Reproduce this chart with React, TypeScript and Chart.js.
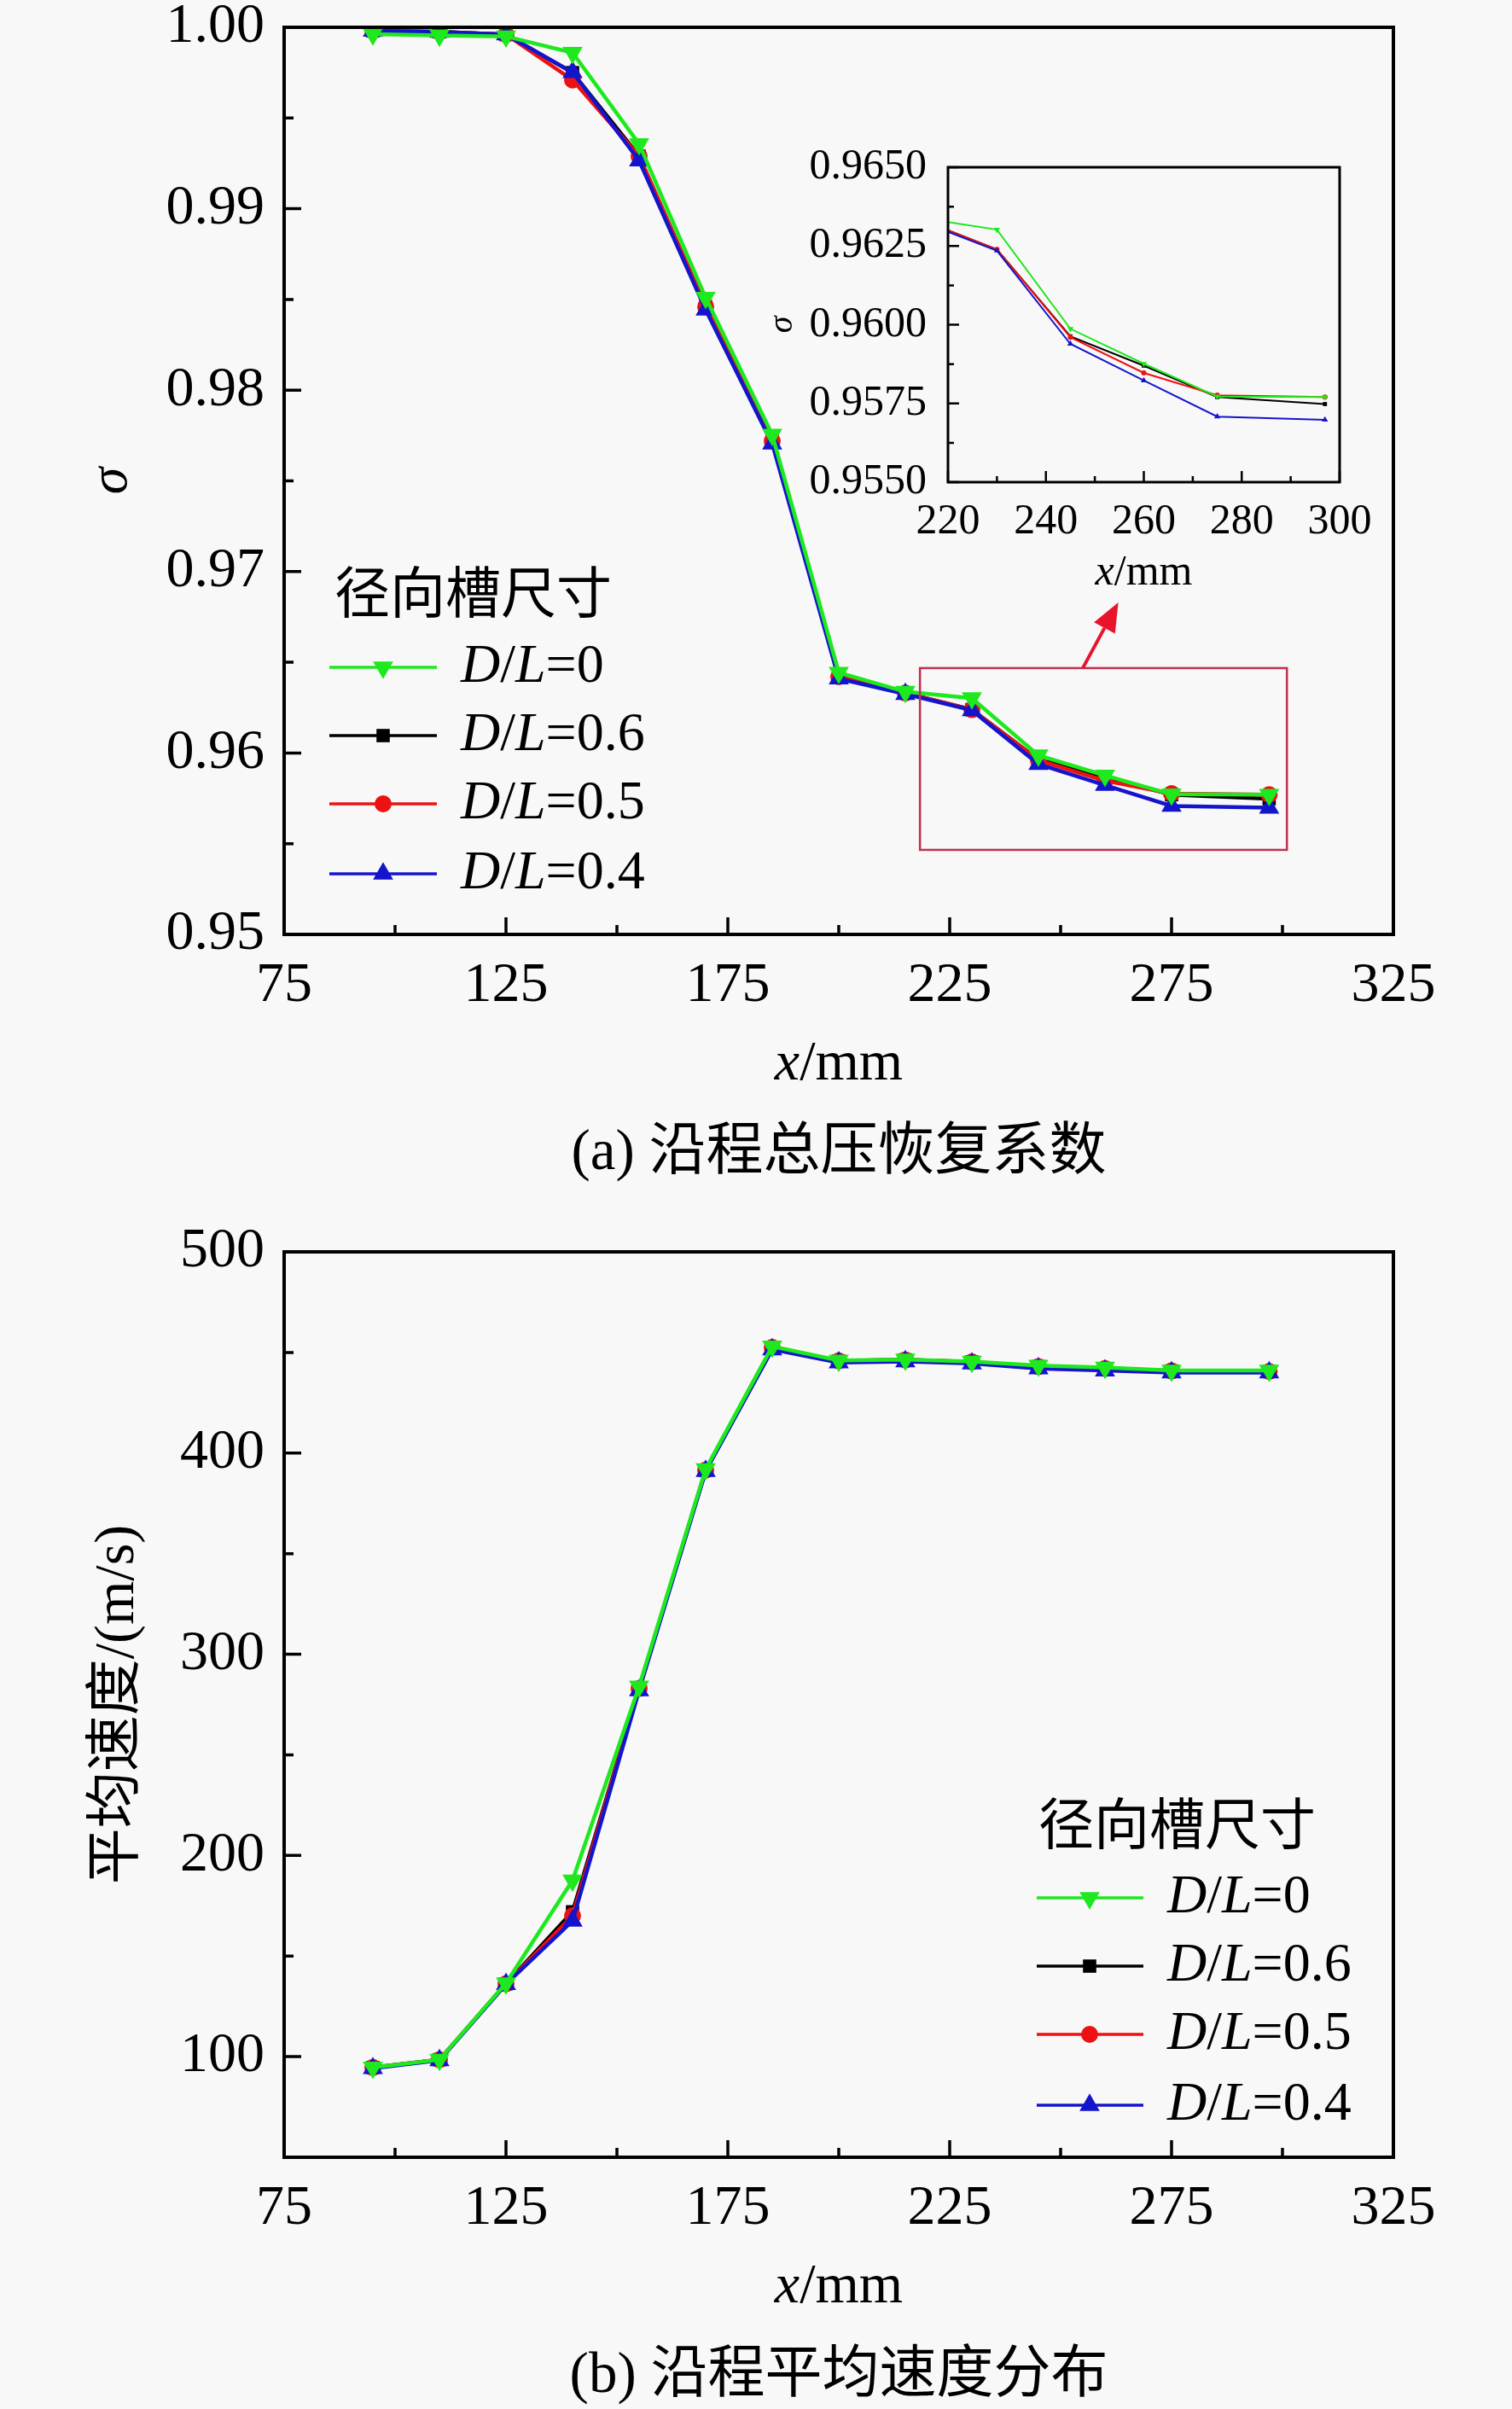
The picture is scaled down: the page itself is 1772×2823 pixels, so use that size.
import React, { useEffect, useRef } from 'react';
import { Chart, registerables } from 'chart.js';

Chart.register(...registerables);

// ---------------- data ----------------
const xPositions = [95, 110, 125, 140, 155, 170, 185, 200, 215, 230, 245, 260, 275, 297];
const seriesRatios = ['0', '0.6', '0.5', '0.4'];
const legendTitle = '径向槽尺寸';

const sigmaDL0 = [0.99962, 0.99955, 0.9995, 0.9986, 0.99357, 0.9851, 0.97755, 0.96443, 0.96338, 0.96302, 0.95987, 0.95876, 0.95772, 0.9577];
const sigmaDL06 = [0.9998, 0.99975, 0.9996, 0.9975, 0.9929, 0.9846, 0.9772, 0.9642, 0.9633, 0.96239, 0.95963, 0.9587, 0.9577, 0.95748];
const sigmaDL05 = [0.9998, 0.99975, 0.9996, 0.9971, 0.9929, 0.9846, 0.9772, 0.9642, 0.9633, 0.96239, 0.9596, 0.95847, 0.95776, 0.9577];
const sigmaDL04 = [0.9998, 0.99975, 0.9996, 0.99752, 0.99265, 0.98443, 0.97705, 0.9641, 0.96325, 0.96235, 0.95939, 0.95823, 0.95708, 0.95698];

const velDL0 = [94.6, 98.5, 136.5, 187.6, 284, 392, 453, 446, 446.5, 445.5, 443.5, 442.5, 441, 441];
const velDL06 = [94.6, 98.5, 136.2, 172, 283, 391.5, 452.5, 445.8, 446.3, 445.3, 443, 442, 440.8, 440.5];
const velDL05 = [94.6, 98.5, 136.2, 170, 283, 391.5, 452.5, 445.8, 446.3, 445.3, 443, 442, 440.8, 440.5];
const velDL04 = [94.2, 98.2, 136, 167.5, 282, 391, 451.5, 445, 445.5, 444.5, 442, 441, 440, 440];

const xTicks = [75, 125, 175, 225, 275, 325];
const xMinorTicks = [100, 150, 200, 250, 300];
const sigmaTicks = [0.95, 0.96, 0.97, 0.98, 0.99, 1.0];
const sigmaMinorTicks = [0.955, 0.965, 0.975, 0.985, 0.995];
const velTicks = [100, 200, 300, 400, 500];
const velMinorTicks = [150, 250, 350, 450];
const insetXTicks = [220, 240, 260, 280, 300];
const insetXMinorTicks = [230, 250, 270, 290];
const insetYTicks = [0.955, 0.9575, 0.96, 0.9625, 0.965];
const insetYMinorTicks = [0.95625, 0.95875, 0.96125, 0.96375];

const zoomBoxX = [218.3, 301];
const zoomBoxY = [0.95466, 0.96468];
const arrowFrom = [255, 0.96468];
const arrowTo = [263, 0.9683];

const captionA = '(a) 沿程总压恢复系数';
const captionB = '(b) 沿程平均速度分布';
const velTitle = '平均速度/(m/s)';

// ---------------- styles ----------------
const FAMILY = '"Liberation Serif", "Noto Sans CJK SC", serif';
const seriesColors = ['#1ee81e', '#000000', '#ee1111', '#1414cc'];
const seriesPointStyles = ['triangle', 'rect', 'circle', 'triangle'];
const seriesPointRotations = [180, 0, 0, 0];
const seriesDrawOrder = [0, 3, 2, 1]; // green on top, then blue, red, black
const seriesMarkerScale = [1.3, 1.05, 0.95, 1.3];

type Seg = { t: string; it?: boolean };

function drawRich(ctx: CanvasRenderingContext2D, segs: Seg[], x: number, y: number, size: number, align: 'left' | 'center', rotate = 0) {
  ctx.save();
  ctx.translate(x, y);
  if (rotate) ctx.rotate(rotate);
  ctx.textBaseline = 'middle';
  ctx.textAlign = 'left';
  ctx.fillStyle = '#000';
  const fonts = segs.map((s) => `${s.it ? 'italic ' : ''}${size}px ${FAMILY}`);
  const widths = segs.map((s, i) => {
    ctx.font = fonts[i];
    return ctx.measureText(s.t).width;
  });
  const total = widths.reduce((a, b) => a + b, 0);
  let cx = align === 'center' ? -total / 2 : 0;
  segs.forEach((s, i) => {
    ctx.font = fonts[i];
    ctx.fillText(s.t, cx, 0);
    cx += widths[i];
  });
  ctx.restore();
}

function drawMarker(ctx: CanvasRenderingContext2D, style: string, rotationDeg: number, x: number, y: number, r: number, color: string) {
  ctx.save();
  ctx.fillStyle = color;
  ctx.beginPath();
  if (style === 'rect') {
    const s = r * Math.SQRT1_2;
    ctx.rect(x - s, y - s, 2 * s, 2 * s);
  } else if (style === 'circle') {
    ctx.arc(x, y, r, 0, Math.PI * 2);
  } else {
    let rad = (rotationDeg * Math.PI) / 180;
    ctx.moveTo(x + Math.sin(rad) * r, y - Math.cos(rad) * r);
    rad += (2 * Math.PI) / 3;
    ctx.lineTo(x + Math.sin(rad) * r, y - Math.cos(rad) * r);
    rad += (2 * Math.PI) / 3;
    ctx.lineTo(x + Math.sin(rad) * r, y - Math.cos(rad) * r);
    ctx.closePath();
  }
  ctx.fill();
  ctx.restore();
}

function drawAxesBox(chart: any, o: { frame: number; tickW: number; maj: number; min: number; xMaj: number[]; xMin: number[]; yMaj: number[]; yMin: number[] }) {
  const { ctx, chartArea: a, scales } = chart;
  const xs = scales.x;
  const ys = scales.y;
  ctx.save();
  ctx.strokeStyle = '#000';
  ctx.lineWidth = o.tickW;
  ctx.beginPath();
  const xt = (vals: number[], len: number) =>
    vals.forEach((v) => {
      const px = xs.getPixelForValue(v);
      ctx.moveTo(px, a.bottom);
      ctx.lineTo(px, a.bottom - len);
    });
  const yt = (vals: number[], len: number) =>
    vals.forEach((v) => {
      const py = ys.getPixelForValue(v);
      ctx.moveTo(a.left, py);
      ctx.lineTo(a.left + len, py);
    });
  xt(o.xMaj, o.maj);
  xt(o.xMin, o.min);
  yt(o.yMaj, o.maj);
  yt(o.yMin, o.min);
  ctx.stroke();
  ctx.lineWidth = o.frame;
  ctx.strokeRect(a.left, a.top, a.right - a.left, a.bottom - a.top);
  ctx.restore();
}

function drawLegend(chart: any, spec: { titleX: number; titleY: number; rows: number[]; lineX0: number; lineX1: number; markerX: number; textX: number }) {
  const { ctx } = chart;
  drawRich(ctx, [{ t: legendTitle }], spec.titleX, spec.titleY, 65, 'left');
  chart.data.datasets.forEach((ds: any, i: number) => {
    const y = spec.rows[i];
    ctx.save();
    ctx.strokeStyle = ds.borderColor;
    ctx.lineWidth = 3.5;
    ctx.beginPath();
    ctx.moveTo(spec.lineX0, y);
    ctx.lineTo(spec.lineX1, y);
    ctx.stroke();
    ctx.restore();
    drawMarker(ctx, ds.pointStyle, ds.pointRotation, spec.markerX, y, 10.5 * seriesMarkerScale[i], ds.borderColor);
    drawRich(ctx, [{ t: 'D', it: true }, { t: '/' }, { t: 'L', it: true }, { t: '=' + seriesRatios[i] }], spec.textX, y, 64, 'left');
  });
}

function makeDatasets(series: number[][], width: number, radius: number, clip?: number) {
  return series.map((vals, i) => ({
    label: 'D/L=' + seriesRatios[i],
    data: xPositions.map((x, j) => ({ x, y: vals[j] })),
    order: seriesDrawOrder[i],
    borderColor: seriesColors[i],
    backgroundColor: seriesColors[i],
    pointBackgroundColor: seriesColors[i],
    pointBorderColor: seriesColors[i],
    pointBorderWidth: 0,
    borderWidth: width,
    pointRadius: radius * seriesMarkerScale[i],
    pointStyle: seriesPointStyles[i],
    pointRotation: seriesPointRotations[i],
    tension: 0,
    fill: false,
    ...(clip !== undefined ? { clip } : {}),
  }));
}

function scaleOpts(min: number, max: number, ticks: number[], fmt: (v: number) => string, size: number, pad: number, fitKey: 'width' | 'height', fitVal: number) {
  return {
    type: 'linear',
    min,
    max,
    grid: { display: false, drawTicks: false },
    border: { display: false },
    afterBuildTicks: (s: any) => {
      s.ticks = ticks.map((v) => ({ value: v }));
    },
    afterFit: (s: any) => {
      s[fitKey] = fitVal;
      s.paddingLeft = 0;
      s.paddingRight = 0;
      s.paddingTop = 0;
      s.paddingBottom = 0;
    },
    ticks: {
      autoSkip: false,
      maxRotation: 0,
      minRotation: 0,
      padding: pad,
      color: '#000',
      font: { family: FAMILY, size },
      callback: (v: any) => fmt(Number(v)),
    },
  };
}

const W = 1772;
const TOP_H = 1410;
const BOTTOM_TOP = 1410;
const BOTTOM_H = 2823 - 1410;

export default function App() {
  const topRef = useRef<HTMLCanvasElement>(null);
  const insetRef = useRef<HTMLCanvasElement>(null);
  const bottomRef = useRef<HTMLCanvasElement>(null);

  useEffect(() => {
    document.body.style.margin = '0';
    const charts: Chart[] = [];

    // ---------- top chart ----------
    const topPlugin = {
      id: 'topDecor',
      afterDatasetsDraw(chart: any) {
        const { ctx, scales } = chart;
        const xs = scales.x;
        const ys = scales.y;
        // zoom box
        ctx.save();
        ctx.strokeStyle = '#c0304c';
        ctx.lineWidth = 2.5;
        const bx0 = xs.getPixelForValue(zoomBoxX[0]);
        const bx1 = xs.getPixelForValue(zoomBoxX[1]);
        const by0 = ys.getPixelForValue(zoomBoxY[1]);
        const by1 = ys.getPixelForValue(zoomBoxY[0]);
        ctx.strokeRect(bx0, by0, bx1 - bx0, by1 - by0);
        // arrow
        const ax0 = xs.getPixelForValue(arrowFrom[0]);
        const ay0 = ys.getPixelForValue(arrowFrom[1]);
        const ax1 = xs.getPixelForValue(arrowTo[0]);
        const ay1 = ys.getPixelForValue(arrowTo[1]);
        const ang = Math.atan2(ay1 - ay0, ax1 - ax0);
        const headLen = 34;
        const headHalf = 14;
        const hx = ax1 - Math.cos(ang) * headLen;
        const hy = ay1 - Math.sin(ang) * headLen;
        ctx.strokeStyle = '#e8142c';
        ctx.fillStyle = '#e8142c';
        ctx.lineWidth = 4;
        ctx.beginPath();
        ctx.moveTo(ax0, ay0);
        ctx.lineTo(hx, hy);
        ctx.stroke();
        ctx.beginPath();
        ctx.moveTo(ax1, ay1);
        ctx.lineTo(hx + Math.sin(ang) * headHalf, hy - Math.cos(ang) * headHalf);
        ctx.lineTo(hx - Math.sin(ang) * headHalf, hy + Math.cos(ang) * headHalf);
        ctx.closePath();
        ctx.fill();
        ctx.restore();
        drawAxesBox(chart, { frame: 4, tickW: 3.5, maj: 20, min: 11, xMaj: xTicks, xMin: xMinorTicks, yMaj: sigmaTicks, yMin: sigmaMinorTicks });
      },
      afterDraw(chart: any) {
        const { ctx, chartArea: a } = chart;
        const cx = (a.left + a.right) / 2;
        drawRich(ctx, [{ t: 'x', it: true }, { t: '/mm' }], cx, a.bottom + 153, 66, 'center');
        drawRich(ctx, [{ t: captionA }], cx, a.bottom + 257, 67, 'center');
        drawRich(ctx, [{ t: 'σ', it: true }], 131, (a.top + a.bottom) / 2, 64, 'center', -Math.PI / 2);
        drawLegend(chart, { titleX: 392, titleY: 701, rows: [782, 862, 942, 1024], lineX0: 386, lineX1: 512, markerX: 449, textX: 540 });
      },
    };

    const topY = scaleOpts(0.95, 1.0, sigmaTicks, (v) => v.toFixed(2), 66, 23, 'width', 333);
    const topX = scaleOpts(75, 325, xTicks, (v) => String(v), 66, 21, 'height', 100);
    charts.push(
      new Chart(topRef.current as HTMLCanvasElement, {
        type: 'line',
        data: { datasets: makeDatasets([sigmaDL0, sigmaDL06, sigmaDL05, sigmaDL04], 4.5, 10.5) as any },
        options: {
          animation: false,
          responsive: false,
          maintainAspectRatio: false,
          layout: { padding: { left: 0, right: W - 1633, top: 32, bottom: TOP_H - 1095 - 100 } },
          plugins: { legend: { display: false }, tooltip: { enabled: false }, title: { display: false } },
          scales: { x: topX as any, y: topY as any },
        },
        plugins: [topPlugin as any],
      })
    );

    // ---------- inset ----------
    const insetPlugin = {
      id: 'insetDecor',
      afterDatasetsDraw(chart: any) {
        drawAxesBox(chart, { frame: 3, tickW: 2.5, maj: 13, min: 7, xMaj: insetXTicks, xMin: insetXMinorTicks, yMaj: insetYTicks, yMin: insetYMinorTicks });
      },
      afterDraw(chart: any) {
        const { ctx, chartArea: a } = chart;
        drawRich(ctx, [{ t: 'x', it: true }, { t: '/mm' }], (a.left + a.right) / 2, a.bottom + 107, 50, 'center');
        drawRich(ctx, [{ t: 'σ', it: true }], a.left - 194, (a.top + a.bottom) / 2, 40, 'center', -Math.PI / 2);
      },
    };
    const inY = scaleOpts(0.955, 0.965, insetYTicks, (v) => v.toFixed(4), 50, 25, 'width', 231);
    const inX = scaleOpts(220, 300, insetXTicks, (v) => String(v), 50, 17, 'height', 100);
    charts.push(
      new Chart(insetRef.current as HTMLCanvasElement, {
        type: 'line',
        data: { datasets: makeDatasets([sigmaDL0, sigmaDL06, sigmaDL05, sigmaDL04], 2, 3.2, 0) as any },
        options: {
          animation: false,
          responsive: false,
          maintainAspectRatio: false,
          layout: { padding: { left: 0, right: 740 - 690, top: 46, bottom: 560 - 415 - 100 } },
          plugins: { legend: { display: false }, tooltip: { enabled: false }, title: { display: false } },
          scales: { x: inX as any, y: inY as any },
        },
        plugins: [insetPlugin as any],
      })
    );

    // ---------- bottom chart ----------
    const bottomPlugin = {
      id: 'bottomDecor',
      afterDatasetsDraw(chart: any) {
        drawAxesBox(chart, { frame: 4, tickW: 3.5, maj: 20, min: 11, xMaj: xTicks, xMin: xMinorTicks, yMaj: velTicks, yMin: velMinorTicks });
      },
      afterDraw(chart: any) {
        const { ctx, chartArea: a } = chart;
        const cx = (a.left + a.right) / 2;
        drawRich(ctx, [{ t: 'x', it: true }, { t: '/mm' }], cx, a.bottom + 153, 66, 'center');
        drawRich(ctx, [{ t: captionB }], cx, a.bottom + 257, 67, 'center');
        drawRich(ctx, [{ t: velTitle }], 139, (a.top + a.bottom) / 2, 66, 'center', -Math.PI / 2);
        const off = BOTTOM_TOP;
        drawLegend(chart, {
          titleX: 1217,
          titleY: 2144 - off,
          rows: [2224 - off, 2304 - off, 2384 - off, 2467 - off],
          lineX0: 1215,
          lineX1: 1340,
          markerX: 1277,
          textX: 1368,
        });
      },
    };
    const botY = scaleOpts(50, 500, velTicks, (v) => String(v), 66, 23, 'width', 333);
    const botX = scaleOpts(75, 325, xTicks, (v) => String(v), 66, 21, 'height', 100);
    charts.push(
      new Chart(bottomRef.current as HTMLCanvasElement, {
        type: 'line',
        data: { datasets: makeDatasets([velDL0, velDL06, velDL05, velDL04], 4.5, 10.5) as any },
        options: {
          animation: false,
          responsive: false,
          maintainAspectRatio: false,
          layout: { padding: { left: 0, right: W - 1633, top: 1467 - BOTTOM_TOP, bottom: BOTTOM_H - (2528 - BOTTOM_TOP) - 100 } },
          plugins: { legend: { display: false }, tooltip: { enabled: false }, title: { display: false } },
          scales: { x: botX as any, y: botY as any },
        },
        plugins: [bottomPlugin as any],
      })
    );

    return () => {
      charts.forEach((c) => c.destroy());
    };
  }, []);

  return (
    <div style={{ position: 'relative', width: W, height: 2823, background: '#f8f8f8', overflow: 'hidden' }}>
      <canvas ref={topRef} width={W} height={TOP_H} style={{ position: 'absolute', left: 0, top: 0, width: W, height: TOP_H }} />
      <canvas ref={insetRef} width={740} height={560} style={{ position: 'absolute', left: 880, top: 150, width: 740, height: 560 }} />
      <canvas ref={bottomRef} width={W} height={BOTTOM_H} style={{ position: 'absolute', left: 0, top: BOTTOM_TOP, width: W, height: BOTTOM_H }} />
    </div>
  );
}
